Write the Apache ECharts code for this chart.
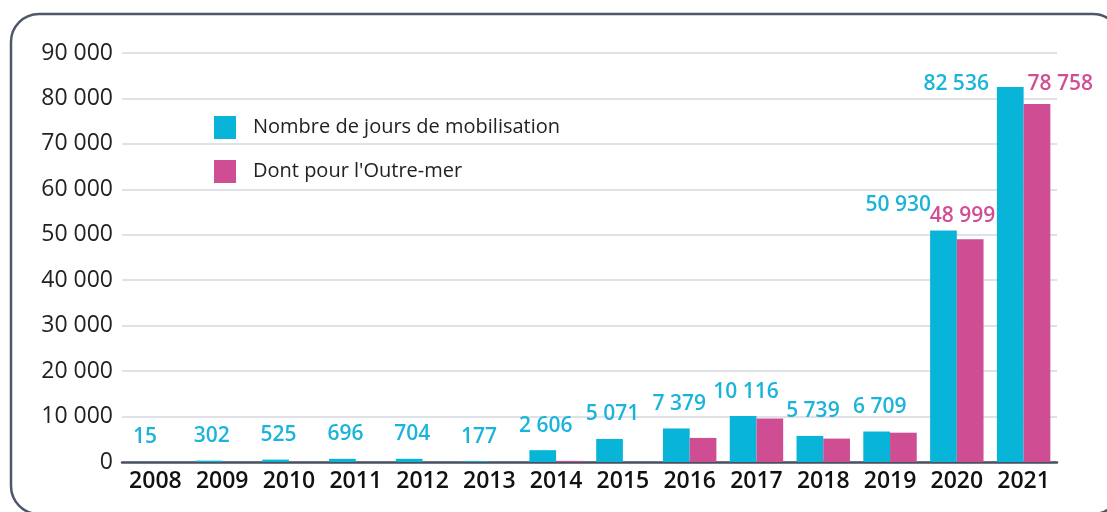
<!DOCTYPE html>
<html>
<head>
<meta charset="utf-8">
<script src="https://cdn.jsdelivr.net/npm/echarts@6/dist/echarts.min.js"></script>
<style>
  html, body { margin: 0; padding: 0; background: #fff; }
  #chart { width: 1107px; height: 512px; }
</style>
</head>
<body>
<div id="chart"></div>
<script>
// années
const years = ['2008', '2009', '2010', '2011', '2012', '2013', '2014', '2015', '2016', '2017', '2018', '2019', '2020', '2021']
// nombre de jours de mobilisation
const joursTotal = [15, 302, 525, 696, 704, 177, 2606, 5071, 7379, 10116, 5739, 6709, 50930, 82536]
const joursOutreMer = [0, 0, 0, 0, 0, 0, 250, 0, 5300, 9550, 5150, 6450, 48999, 78758]
// graduations de l'axe vertical
const yMax = 90000
const yStep = 10000

const cyan = '#08b5d9'
const magenta = '#cf4d93'
const font = "'Open Sans', 'Noto Sans', sans-serif"

// formatage "82 536"
const fmt = (v) => String(v).replace(/\B(?=(\d{3})+(?!\d))/g, ' ')

const chart = echarts.init(document.getElementById('chart'))

// étiquettes de la série principale
const totalData = joursTotal.map((v, i) => {
  const item = { value: v }
  if (years[i] === '2020') {
    item.label = { position: [-2, -26], align: 'right', verticalAlign: 'middle' }
  } else if (years[i] === '2021') {
    item.label = { position: [-11, -3], align: 'right', verticalAlign: 'middle' }
  }
  return item
})

// étiquettes Outre-mer : seulement 2020 et 2021
const outreMerData = joursOutreMer.map((v, i) => {
  const item = { value: v }
  if (years[i] === '2020') {
    item.label = { show: true, position: [-27, -23], align: 'left', verticalAlign: 'middle' }
  } else if (years[i] === '2021') {
    item.label = { show: true, position: [4, -20], align: 'left', verticalAlign: 'middle' }
  }
  return item
})

const option = {
  animation: false,
  textStyle: { fontFamily: font },
  graphic: [
    {
      type: 'rect',
      z: -1,
      shape: { x: 11, y: 14, width: 1110, height: 500, r: 28 },
      style: { fill: 'none', stroke: '#4f5768', lineWidth: 2.5 }
    }
  ],
  legend: {
    orient: 'vertical',
    left: 209,
    top: 111,
    itemWidth: 22,
    itemHeight: 23,
    itemGap: 21,
    icon: 'rect',
    textStyle: { fontSize: 20, color: '#222', fontFamily: font, padding: [0, 0, 0, 12] },
    data: ['Nombre de jours de mobilisation', "Dont pour l'Outre-mer"]
  },
  grid: {
    left: 122,
    right: 50,
    top: 53,
    bottom: 50
  },
  xAxis: {
    type: 'category',
    data: years,
    axisLine: { lineStyle: { color: '#4a5060', width: 2.5 } },
    axisTick: { show: false },
    axisLabel: { interval: 0, fontSize: 23, fontWeight: 600, color: '#111', margin: 8, fontFamily: font }
  },
  yAxis: {
    type: 'value',
    min: 0,
    max: yMax,
    interval: yStep,
    axisLine: { show: false },
    axisTick: { show: false },
    axisLabel: { fontSize: 23, color: '#222', margin: 9, formatter: fmt, fontFamily: font },
    splitLine: { lineStyle: { color: '#d6d9df', width: 1.5 } }
  },
  series: [
    {
      name: 'Nombre de jours de mobilisation',
      type: 'bar',
      barGap: '0%',
      barCategoryGap: '20%',
      itemStyle: { color: cyan },
      label: {
        show: true,
        position: 'top',
        distance: 14,
        offset: [3, 0],
        fontSize: 21,
        fontWeight: 600,
        color: '#1ab4da',
        fontFamily: font,
        formatter: (p) => fmt(p.value)
      },
      data: totalData
    },
    {
      name: "Dont pour l'Outre-mer",
      type: 'bar',
      itemStyle: { color: magenta },
      label: {
        show: false,
        fontSize: 21,
        fontWeight: 600,
        color: '#d14e94',
        fontFamily: font,
        formatter: (p) => fmt(p.value)
      },
      data: outreMerData
    }
  ]
}

chart.setOption(option)
</script>
</body>
</html>
